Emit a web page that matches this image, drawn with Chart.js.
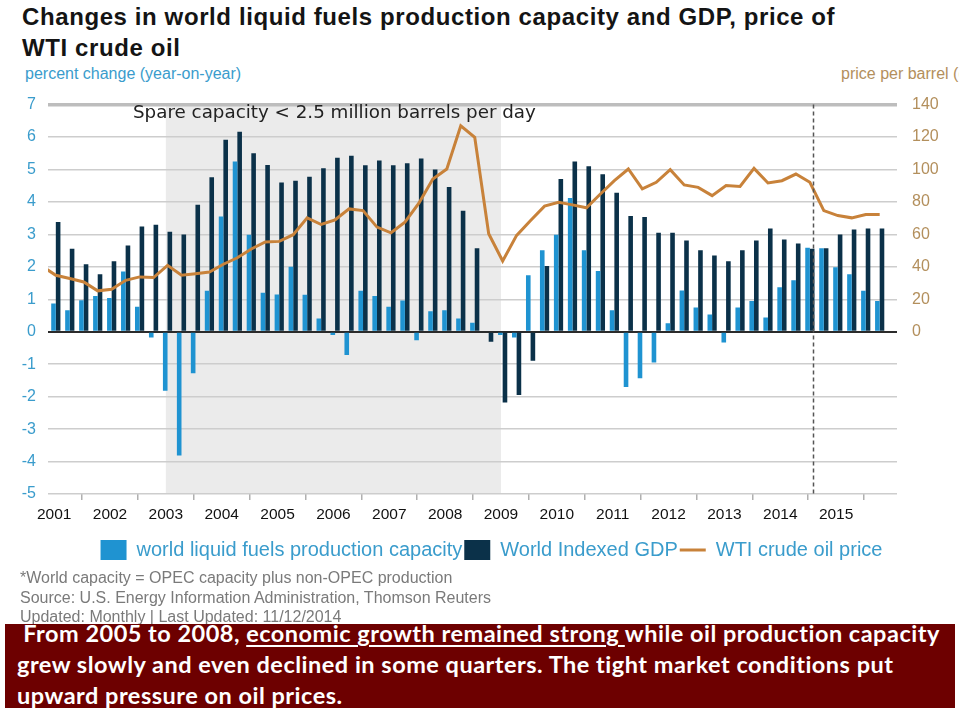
<!DOCTYPE html>
<html><head><meta charset="utf-8">
<script src="https://cdn.jsdelivr.net/npm/chart.js@4.4.1/dist/chart.umd.min.js"></script>
<style>
html,body{margin:0;padding:0;background:#fff;}
body{width:959px;height:708px;overflow:hidden;position:relative;font-family:"Liberation Sans",Arial,sans-serif;}
#title{position:absolute;left:22px;top:1px;font-weight:bold;font-size:24px;letter-spacing:0.6px;line-height:31px;color:#141414;white-space:nowrap;}
#ylab{position:absolute;left:25px;top:65px;font-size:16px;line-height:18px;color:#3a9ccc;white-space:nowrap;}
#y2lab{position:absolute;left:841px;top:65px;font-size:16px;line-height:18px;color:#b38f5c;white-space:nowrap;}
#spare{position:absolute;left:133px;top:100px;font-family:"DejaVu Sans";font-size:18.3px;line-height:24px;color:#222;white-space:nowrap;}
#wrap{position:absolute;left:0;top:80px;width:959px;height:500px;}
#notes{position:absolute;left:20px;top:568px;font-size:16px;line-height:19.5px;color:#7a7a7a;white-space:nowrap;}
#box{position:absolute;left:5px;top:624px;width:950px;height:84px;background:#6d0000;color:#fff;font-family:Lato,"Open Sans",sans-serif;font-weight:bold;font-size:23.5px;letter-spacing:0.5px;line-height:31px;overflow:hidden;padding:0 0 0 12px;box-sizing:border-box;white-space:nowrap;}
#box div{position:relative;top:-6px;}
#box u{text-decoration-thickness:1.5px;text-underline-offset:3px;}
</style></head>
<body>
<div id="title">Changes in world liquid fuels production capacity and GDP, price of<br>WTI crude oil</div>
<div id="ylab">percent change (year-on-year)</div>
<div id="y2lab">price per barrel (dollars)</div>
<div id="wrap"><canvas id="c" width="959" height="500"></canvas></div>
<div id="spare">Spare capacity &lt; 2.5 million barrels per day</div>
<div id="notes">*World capacity = OPEC capacity plus non-OPEC production<br>Source: U.S. Energy Information Administration, Thomson Reuters<br>Updated: Monthly | Last Updated: 11/12/2014</div>
<div id="box"><div>&nbsp;From 2005 to 2008, <u>economic growth remained strong </u>while oil production capacity<br>grew slowly and even declined in some quarters. The tight market conditions put<br>upward pressure on oil prices.</div></div>
<script>
// ---- data ----
const years = [2001,2002,2003,2004,2005,2006,2007,2008,2009,2010,2011,2012,2013,2014,2015];
const yearTickLabels = ['2001','2002','2003','2004','2005','2006','2007','2008','2009','2010','2011','2012','2013','2014','2015',''];
const quarterLabels = [];
years.forEach(y => { for (let q = 1; q <= 4; q++) quarterLabels.push(y + 'Q' + q); });

// world liquid fuels production capacity, % y/y (quarterly 2001Q1-2015Q4)
const capacity = [
  0.87,0.66,0.97,1.10, 1.04,1.86,0.77,-0.18, -1.82,-3.81,-1.28,1.26, 3.55,5.25,2.99,1.20,
  1.15,2.00,1.14,0.41, -0.10,-0.72,1.26,1.10, 0.77,0.96,-0.26,0.63, 0.66,0.41,0.28,0.00,
  -0.10,-0.18,1.74,2.51, 2.99,4.12,2.51,1.87, 0.66,-1.70,-1.43,-0.95, 0.26,1.27,0.75,0.53,
  -0.33,0.75,0.95,0.44, 1.37,1.59,2.59,2.57, 1.99,1.77,1.26,0.95
];
// world indexed GDP, % y/y
const gdp = [
  3.38,2.56,2.08,1.77, 2.17,2.66,3.24,3.30, 3.08,3.00,3.91,4.76, 5.92,6.16,5.50,5.14,
  4.60,4.65,4.78,5.04, 5.36,5.42,5.13,5.28, 5.13,5.19,5.34,5.00, 4.46,3.73,2.57,-0.31,
  -2.18,-1.95,-0.89,2.03, 4.71,5.25,5.10,4.85, 4.28,3.57,3.54,3.05, 3.05,2.81,2.51,2.35,
  2.17,2.51,2.81,3.18, 2.84,2.72,2.56,2.57, 3.00,3.15,3.18,3.18
];
// WTI crude oil price, $/barrel (quarterly 2000Q4-2015Q4)
const oilQuarters = ['2000Q4'].concat(quarterLabels);
const oilPrice = [
  40.5,
  34.8,32.8,30.7,25.2, 26.2,31.7,33.8,33.4, 40.9,34.8,35.8,36.8, 41.6,45.6,51.0,55.3,
  55.7,59.8,70.2,66.1, 69.0,75.7,74.7,64.5, 61.0,67.5,79.2,94.2, 100.3,126.9,119.8,60.4,
  43.6,59.4,68.6,77.4, 79.8,78.2,76.4,84.9, 93.1,100.3,88.0,92.1, 99.9,90.5,89.0,83.9,
  90.1,89.5,100.7,91.7, 93.1,97.2,92.1,74.7, 71.6,70.2,72.3,72.3
];
const leftTicks = [-5,-4,-3,-2,-1,0,1,2,3,4,5,6,7];
const rightTicks = [0,20,40,60,80,100,120,140];
const spareStart = 2003, spareEnd = 2009;   // shaded period
const forecastStart = 2014.58;              // dashed line

// ---- helpers ----
function qx(label){ const y = +label.slice(0,4), q = +label.slice(5); return y + (q-1)*0.25 + 0.03; }

const shadePlugin = {
  id:'shade',
  afterLayout(chart){ if (chart.legend) { chart.legend.left += 12; chart.legend.right += 12; } },
  beforeDraw(chart){
    const {ctx, chartArea:a, scales:{x}} = chart;
    const x0 = x.getPixelForValue(spareStart), x1 = x.getPixelForValue(spareEnd);
    ctx.save(); ctx.fillStyle = '#ebebeb'; ctx.fillRect(x0, a.top, x1-x0, a.bottom-a.top); ctx.restore();
  },
  afterDatasetsDraw(chart){
    const {ctx, chartArea:a, scales:{x}} = chart;
    const px = Math.round(x.getPixelForValue(forecastStart)) + 0.5;
    ctx.save(); ctx.strokeStyle = '#555'; ctx.lineWidth = 1.5; ctx.setLineDash([4,3]);
    ctx.beginPath(); ctx.moveTo(px, a.top); ctx.lineTo(px, a.bottom); ctx.stroke(); ctx.restore();
  }
};

new Chart(document.getElementById('c'), {
  type:'bar',
  data:{
    datasets:[
      {label:'world liquid fuels production capacity', data: quarterLabels.map((l,i)=>({x:qx(l), y:capacity[i]})),
       backgroundColor:'#1f93d1', yAxisID:'y', categoryPercentage:0.66, barPercentage:1.0, order:1,
       lgStyle:'rect', lgFill:'#1f93d1', lgStroke:'#1f93d1', lgWidth:0},
      {label:'World Indexed GDP', data: quarterLabels.map((l,i)=>({x:qx(l), y:gdp[i]})),
       backgroundColor:'#0b3149', yAxisID:'y', categoryPercentage:0.66, barPercentage:1.0, order:1,
       lgStyle:'rect', lgFill:'#0b3149', lgStroke:'#0b3149', lgWidth:0},
      {type:'line', label:'WTI crude oil price', data: oilQuarters.map((l,i)=>({x:qx(l), y:oilPrice[i]})),
       borderColor:'#c8823a', borderWidth:3, pointRadius:0, tension:0, yAxisID:'y2', order:0,
       lgStyle:'line', lgFill:'#c8823a', lgStroke:'#c8823a', lgWidth:3}
    ]
  },
  options:{
    responsive:false, animation:false,
    layout:{padding:{top:17, bottom:10, left:0, right:0}},
    plugins:{
      tooltip:{enabled:false},
      legend:{position:'bottom',
        labels:{usePointStyle:true, pointStyleWidth:26, boxHeight:20, boxWidth:26, padding:2,
          color:'#3a9ccc', font:{family:'Liberation Sans', size:20},
          sort:(a,b)=>a.datasetIndex-b.datasetIndex,
          generateLabels:(chart)=>chart.data.datasets.map((ds,i)=>({
            text:ds.label, fillStyle:ds.lgFill, strokeStyle:ds.lgStroke, lineWidth:ds.lgWidth,
            pointStyle:ds.lgStyle, fontColor:'#3a9ccc', datasetIndex:i, hidden:false}))
        }}
    },
    scales:{
      x:{type:'linear', offset:false, min:2000.89, max:2016.09,
        afterBuildTicks:(s)=>{ s.ticks = years.concat([2016]).map(v=>({value:v})); },
        afterFit:(s)=>{ s.height = 44; },
        ticks:{autoSkip:false, maxRotation:0, padding:5, color:'#111', font:{family:'Liberation Sans', size:15.5},
          callback:(v)=>{ const i = v - years[0]; return yearTickLabels[i] !== undefined ? yearTickLabels[i] : ''; }},
        grid:{drawOnChartArea:false, drawTicks:true, tickLength:6, color:'#b0b0b0', lineWidth:1.5},
        border:{display:false}
      },
      y:{position:'left', min:-5, max:7,
        afterBuildTicks:(s)=>{ s.ticks = leftTicks.map(v=>({value:v})); },
        afterFit:(s)=>{ s.width = 48; },
        ticks:{padding:12, color:'#3a9ccc', font:{family:'Liberation Sans', size:16}},
        grid:{drawTicks:false,
          color:(c)=> c.tick.value===0 ? '#2b2b2b' : (c.tick.value===7 ? '#bdbdbd' : '#cdcdcd'),
          lineWidth:(c)=> c.tick.value===7 ? 3.5 : (c.tick.value===0 ? 2 : 1.5)},
        border:{display:false}
      },
      y2:{position:'right', min:-100, max:140,
        afterBuildTicks:(s)=>{ s.ticks = rightTicks.map(v=>({value:v})); },
        afterFit:(s)=>{ s.width = 62; },
        ticks:{padding:15, color:'#b38f5c', font:{family:'Liberation Sans', size:16}},
        grid:{display:false, drawTicks:false}, border:{display:false}
      }
    }
  },
  plugins:[shadePlugin]
});
</script>
</body></html>
